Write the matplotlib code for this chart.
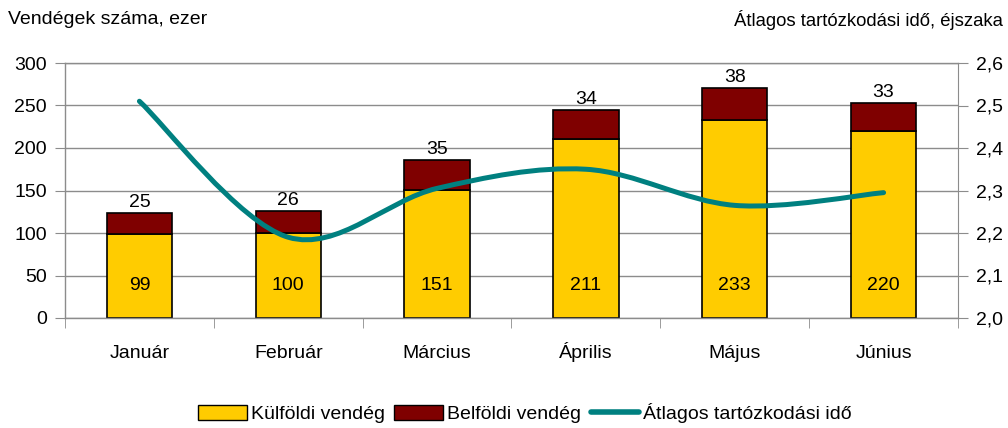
import matplotlib
matplotlib.use("Agg")
import matplotlib.pyplot as plt
from matplotlib.path import Path
from matplotlib.patches import PathPatch, Patch
from matplotlib.lines import Line2D
import numpy as np

plt.rcParams['font.family'] = ['Liberation Sans', 'DejaVu Sans']

months = ["Január", "Február", "Március", "Április", "Május", "Június"]
kulfoldi = [99, 100, 151, 211, 233, 220]
belfoldi = [25, 26, 35, 34, 38, 33]
atlag = [2.51, 2.19, 2.305, 2.35, 2.265, 2.295]

yellow = "#FFCC00"
maroon = "#7F0000"
teal = "#008080"
grid = "#8C8C8C"

fig = plt.figure(figsize=(10.08, 4.28), dpi=100)
ax = fig.add_axes([65/1008, 1-318/428, 893/1008, 255/428])
x = np.arange(len(months))
w = 0.44
ax.bar(x, kulfoldi, w, color=yellow, edgecolor="black", linewidth=1.2, zorder=2)
ax.bar(x, belfoldi, w, bottom=kulfoldi, color=maroon, edgecolor="black", linewidth=1.2, zorder=2)
fs = 14
for i in range(len(months)):
    ax.text(x[i], 38, str(kulfoldi[i]), ha="center", va="center", fontsize=fs, zorder=5)
    ax.text(x[i], kulfoldi[i]+belfoldi[i]+2, str(belfoldi[i]), ha="center", va="bottom", fontsize=fs, zorder=5)

ax.set_xlim(-0.5, len(months)-0.5)
ax.set_ylim(0, 300)
ax.set_yticks(range(0, 301, 50))
ax.yaxis.grid(True, color=grid, linewidth=1)
ax.set_axisbelow(True)
for s in ["top", "right", "left", "bottom"]:
    ax.spines[s].set_color(grid)
    ax.spines[s].set_linewidth(1)
ax.spines["right"].set_visible(False)
ax.set_xticks(x)
ax.set_xticklabels(months, fontsize=fs, va="baseline")
ax.set_xticks(np.arange(-0.5, len(months), 1), minor=True)
ax.tick_params(axis="x", which="major", length=0, pad=29)
ax.tick_params(axis="x", which="minor", length=7, color=grid, direction="out")
ax.tick_params(axis="y", labelsize=fs, length=7, color=grid, pad=6)

ax2 = ax.twinx()
ax2.set_ylim(2.0, 2.6)
ax2.set_yticks(np.arange(2.0, 2.61, 0.1))
ax2.set_yticklabels([f"{v:.1f}".replace(".", ",") for v in np.arange(2.0, 2.61, 0.1)])
ax2.tick_params(axis="y", labelsize=fs, length=7, color=grid, pad=6)
for s in ["top", "left", "bottom"]:
    ax2.spines[s].set_visible(False)
ax2.spines["right"].set_color(grid)

# smoothed line (Bezier through data points)
pts = np.column_stack([x, atlag]).astype(float)
verts = [tuple(pts[0])]
codes = [Path.MOVETO]
n = len(pts)
for i in range(n-1):
    p0 = pts[i-1] if i > 0 else pts[i]
    p1 = pts[i]
    p2 = pts[i+1]
    p3 = pts[i+2] if i+2 < n else pts[i+1]
    c1 = p1 + (p2 - p0)/6
    c2 = p2 - (p3 - p1)/6
    verts += [tuple(c1), tuple(c2), tuple(p2)]
    codes += [Path.CURVE4]*3
ax2.add_patch(PathPatch(Path(verts, codes), facecolor="none", edgecolor=teal, linewidth=3.6, capstyle="round", zorder=4))

fig.text(8/1008, 1-20/428, "Vendégek száma, ezer", fontsize=fs, va="center", ha="left")
fig.text(1003/1008, 1-20/428, "Átlagos tartózkodási idő, éjszaka", fontsize=13.3, va="center", ha="right")

handles = [Patch(facecolor=yellow, edgecolor="black"), Patch(facecolor=maroon, edgecolor="black"),
           Line2D([0], [0], color=teal, linewidth=4, solid_capstyle="round")]
fig.legend(handles, ["Külföldi vendég", "Belföldi vendég", "Átlagos tartózkodási idő"],
           loc="center", bbox_to_anchor=(525/1008, 1-413/428), ncol=3, frameon=False, fontsize=fs,
           handlelength=2.5, handleheight=0.8, handletextpad=0.2, columnspacing=0.5)

fig.savefig("out.png", dpi=100)
